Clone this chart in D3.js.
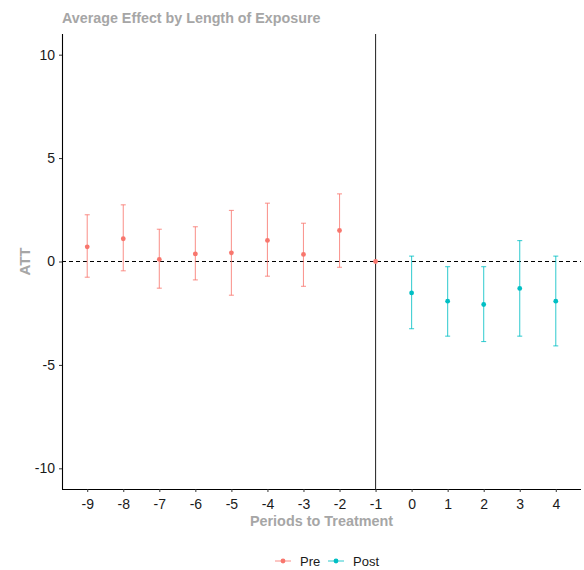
<!DOCTYPE html>
<html>
<head>
<meta charset="utf-8">
<script src="https://cdn.jsdelivr.net/npm/d3@7"></script>
<style>
  body { margin: 0; background: #fff; }
  text { font-family: "Liberation Sans", Arial, sans-serif; }
</style>
</head>
<body>
<script>
// data
var periods = [-9, -8, -7, -6, -5, -4, -3, -2, -1, 0, 1, 2, 3, 4];
var groups  = ["Pre", "Pre", "Pre", "Pre", "Pre", "Pre", "Pre", "Pre", "Pre", "Post", "Post", "Post", "Post", "Post"];
var att     = [0.71, 1.10, 0.10, 0.37, 0.42, 1.02, 0.34, 1.50, 0, -1.52, -1.92, -2.08, -1.30, -1.92];
var lower   = [-0.76, -0.45, -1.29, -0.89, -1.63, -0.71, -1.20, -0.28, 0, -3.25, -3.61, -3.87, -3.61, -4.08];
var upper   = [2.26, 2.74, 1.56, 1.68, 2.47, 2.82, 1.85, 3.27, 0, 0.26, -0.25, -0.25, 1.01, 0.26];
var xTicks  = [-9, -8, -7, -6, -5, -4, -3, -2, -1, 0, 1, 2, 3, 4];
var yTicks  = [-10, -5, 0, 5, 10];
var legendKeys = ["Pre", "Post"];

var data = periods.map(function(p, i) {
  return {period: p, group: groups[i], att: att[i], lo: lower[i], hi: upper[i]};
});

var margin = {top: 34, right: 3, bottom: 81, left: 62},
    width = 584 - margin.left - margin.right,
    height = 570 - margin.top - margin.bottom;

var x = d3.scaleLinear().domain([-9.7, 4.7]).range([0, width]);
var y = d3.scaleLinear().domain([-11, 11]).range([height, 0]);
var color = d3.scaleOrdinal().domain(legendKeys).range(["#F8766D", "#00BFC4"]);

// plain hyphen for negatives, like the original
var fmt = function(d) { return String(d); };

var svg = d3.select("body").append("svg")
    .attr("width", 584)
    .attr("height", 570);

var g = svg.append("g")
    .attr("transform", "translate(" + margin.left + "," + margin.top + ")");

// reference lines
g.append("line")
  .attr("x1", 0).attr("x2", width)
  .attr("y1", y(0)).attr("y2", y(0))
  .attr("stroke", "#000").attr("stroke-width", 1)
  .attr("stroke-dasharray", "4,3");

g.append("line")
  .attr("x1", x(-1)).attr("x2", x(-1))
  .attr("y1", 0).attr("y2", height)
  .attr("stroke", "#333").attr("stroke-width", 1.1);

// error bars
var bars = g.selectAll(".bar").data(data.filter(function(d) { return d.hi !== d.lo; }))
  .enter().append("g")
  .attr("stroke", function(d) { return color(d.group); })
  .attr("stroke-opacity", 0.75)
  .attr("stroke-width", 1.1);

bars.append("line")
  .attr("x1", function(d) { return x(d.period); })
  .attr("x2", function(d) { return x(d.period); })
  .attr("y1", function(d) { return y(d.lo); })
  .attr("y2", function(d) { return y(d.hi); });

bars.selectAll(".cap").data(function(d) { return [d.lo, d.hi].map(function(v) { return {p: d.period, v: v}; }); })
  .enter().append("line")
  .attr("x1", function(d) { return x(d.p) - 2.5; })
  .attr("x2", function(d) { return x(d.p) + 2.5; })
  .attr("y1", function(d) { return y(d.v); })
  .attr("y2", function(d) { return y(d.v); });

// points
g.selectAll(".dot").data(data)
  .enter().append("circle")
  .attr("cx", function(d) { return x(d.period); })
  .attr("cy", function(d) { return y(d.att); })
  .attr("r", 2.4)
  .attr("fill", function(d) { return color(d.group); });

// axes
var xAxis = g.append("g")
  .attr("transform", "translate(0," + height + ")")
  .call(d3.axisBottom(x).tickValues(xTicks).tickSize(3).tickPadding(4).tickFormat(fmt));
xAxis.select(".domain").attr("stroke", "#000").attr("stroke-width", 1.1)
  .attr("d", "M0,0.5H" + width);

var yAxis = g.append("g")
  .call(d3.axisLeft(y).tickValues(yTicks).tickSize(3).tickPadding(4).tickFormat(fmt));
yAxis.select(".domain").attr("stroke", "#000").attr("stroke-width", 1.1)
  .attr("d", "M0.5,0V" + height);

[xAxis, yAxis].forEach(function(a) {
  a.selectAll(".tick line").attr("stroke", "#333");
  a.selectAll(".tick text").attr("fill", "#1a1a1a").style("font-size", "14px")
    .style("font-family", "'Liberation Sans', Arial, sans-serif");
});
xAxis.selectAll(".tick text").attr("dy", "0.9em");

// titles
svg.append("text")
  .attr("x", 62).attr("y", 23)
  .attr("fill", "#a6a6a6")
  .style("font-size", "14.3px").style("font-weight", "bold")
  .text("Average Effect by Length of Exposure");

svg.append("text")
  .attr("x", margin.left + width / 2).attr("y", 526)
  .attr("text-anchor", "middle")
  .attr("fill", "#a6a6a6")
  .style("font-size", "14.4px").style("font-weight", "bold")
  .text("Periods to Treatment");

svg.append("text")
  .attr("transform", "translate(30," + (margin.top + y(0)) + ") rotate(-90)")
  .attr("text-anchor", "middle")
  .attr("fill", "#a6a6a6")
  .style("font-size", "15px").style("font-weight", "bold")
  .text("ATT");

// legend
var legX = [275, 328];
var leg = svg.selectAll(".leg").data(legendKeys)
  .enter().append("g")
  .attr("transform", function(d, i) { return "translate(" + legX[i] + ",561)"; });

leg.append("line")
  .attr("x1", 0).attr("x2", 16)
  .attr("stroke", function(d) { return color(d); })
  .attr("stroke-opacity", 0.75)
  .attr("stroke-width", 1.1);

leg.append("circle")
  .attr("cx", 8).attr("r", 2.4)
  .attr("fill", function(d) { return color(d); });

leg.append("text")
  .attr("x", 25).attr("dy", "0.35em")
  .attr("fill", "#1a1a1a")
  .style("font-size", "13px")
  .text(function(d) { return d; });
</script>
</body>
</html>
